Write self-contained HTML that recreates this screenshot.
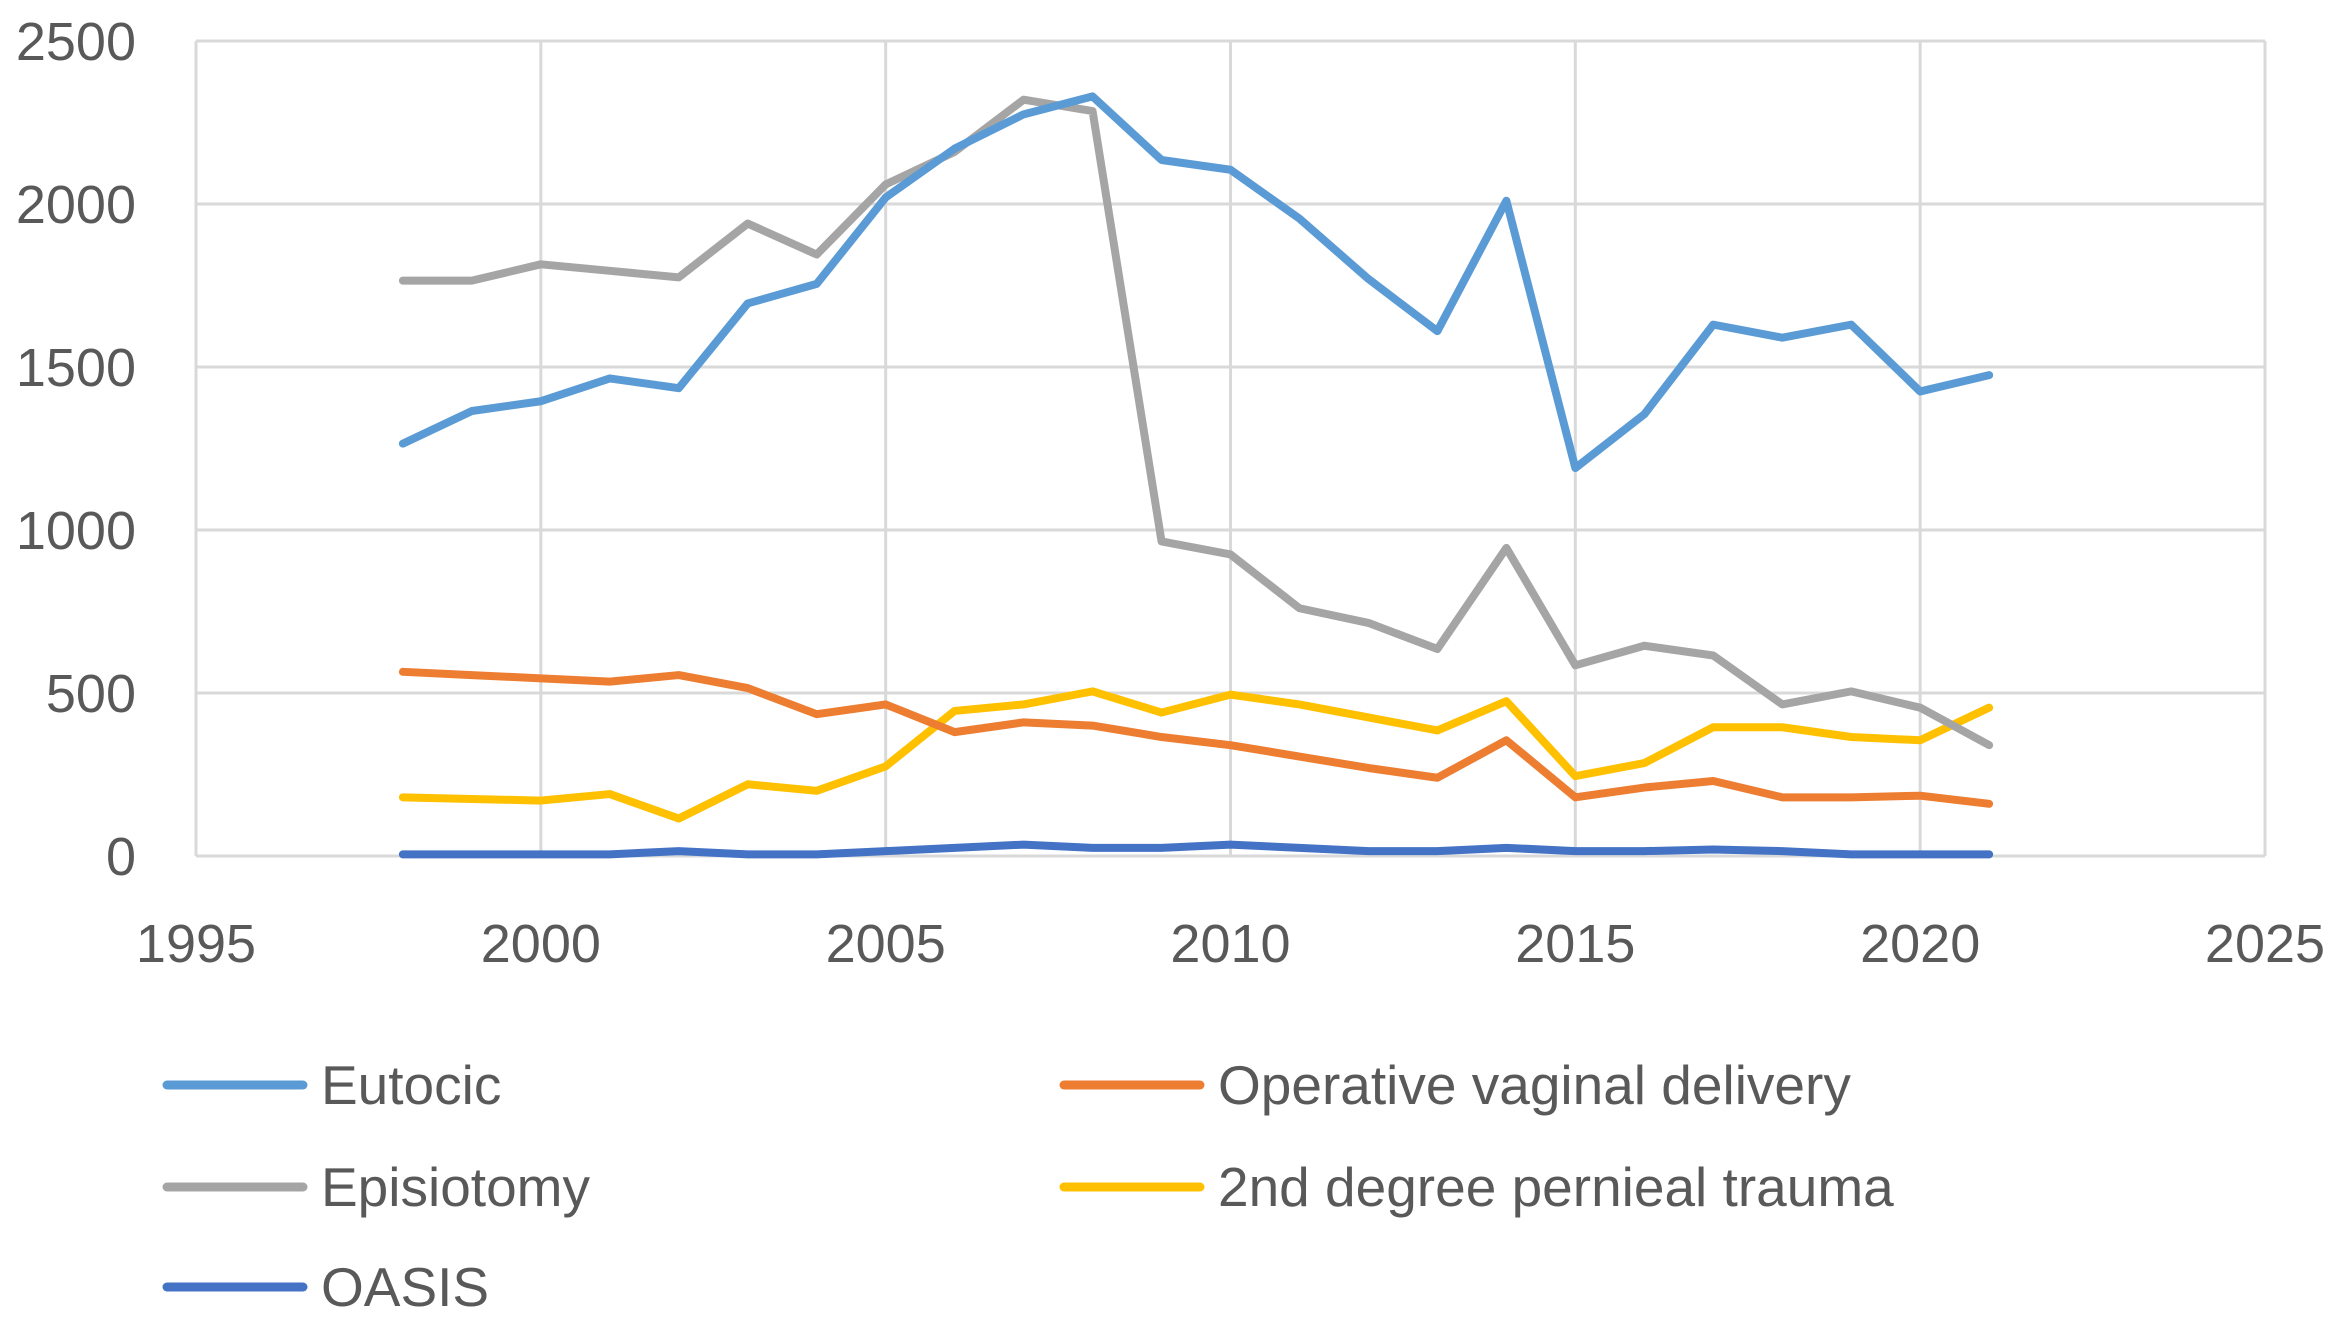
<!DOCTYPE html>
<html><head><meta charset="utf-8"><style>
html,body{margin:0;padding:0;background:#fff;}
svg{display:block;font-family:"Liberation Sans",sans-serif;}
</style></head><body>
<svg id="chart" width="2341" height="1321" viewBox="0 0 2341 1321">
<g id="grid"></g>
<g id="yticks"></g>
<g id="xticks"></g>
<g id="series"></g>
<g id="legend"></g>
</svg>
<script>
const years = [1998,1999,2000,2001,2002,2003,2004,2005,2006,2007,2008,2009,2010,2011,2012,2013,2014,2015,2016,2017,2018,2019,2020,2021];
const eutocic = [1265,1365,1395,1465,1435,1695,1755,2020,2170,2275,2330,2135,2105,1955,1770,1610,2010,1190,1355,1630,1590,1630,1425,1475];
const episiotomy = [1765,1765,1815,1795,1775,1940,1845,2060,2160,2320,2285,965,925,760,715,635,945,585,645,615,465,505,455,340];
const operative = [565,555,545,535,555,515,435,465,380,410,400,365,340,305,270,240,355,180,210,230,180,180,185,160];
const secondDegree = [180,175,170,190,115,220,200,275,445,465,505,440,495,465,425,385,475,245,285,395,395,365,355,455];
const oasis = [5,5,5,5,15,5,5,15,25,35,25,25,35,25,15,15,25,15,15,20,15,5,5,5];
const yTicks = [0,500,1000,1500,2000,2500];
const xTicks = [1995,2000,2005,2010,2015,2020,2025];

const NS='http://www.w3.org/2000/svg';
const L=196,R=2265,T=41,B=856;
const xs=v=>L+(v-1995)/30*(R-L);
const ys=v=>B-v/2500*(B-T);
function mk(tag,attrs,parent){const e=document.createElementNS(NS,tag);for(const k in attrs)e.setAttribute(k,attrs[k]);parent.appendChild(e);return e;}
const grid=document.getElementById('grid'),yt=document.getElementById('yticks'),xt=document.getElementById('xticks'),ser=document.getElementById('series'),leg=document.getElementById('legend');
yTicks.forEach(v=>{
  const l=mk('line',{x1:L,x2:R,y1:ys(v),y2:ys(v),stroke:'#d9d9d9','stroke-width':3},grid);
  
  
  const t=mk('text',{x:136,y:ys(v)+19,'text-anchor':'end','font-size':54,fill:'#595959'},yt);
  t.textContent=v;
  
  
});
xTicks.forEach(v=>{
  const l=mk('line',{x1:xs(v),x2:xs(v),y1:T,y2:B,stroke:'#d9d9d9','stroke-width':3},grid);
  
  
  const t=mk('text',{x:xs(v),y:962,'text-anchor':'middle','font-size':54,fill:'#595959'},xt);
  t.textContent=v;
  
  
});
const seriesList=[
  {name:'Eutocic',data:eutocic,color:'#5B9BD5',lx:167,ly:1085},
  {name:'Operative vaginal delivery',data:operative,color:'#ED7D31',lx:1064,ly:1085},
  {name:'Episiotomy',data:episiotomy,color:'#A5A5A5',lx:167,ly:1187},
  {name:'2nd degree pernieal trauma',data:secondDegree,color:'#FFC000',lx:1064,ly:1187},
  {name:'OASIS',data:oasis,color:'#4472C4',lx:167,ly:1287}
];
const order=[4,3,1,2,0];
order.forEach(i=>{
  const s=seriesList[i];
  const p=mk('polyline',{points:s.data.map((v,j)=>xs(years[j])+','+ys(v)).join(' '),fill:'none',stroke:s.color,'stroke-width':8,'stroke-linejoin':'round','stroke-linecap':'round'},ser);
  
  
});
seriesList.forEach(s=>{
  const g=mk('g',{},leg);
  
  
  mk('line',{x1:s.lx,x2:s.lx+136,y1:s.ly,y2:s.ly,stroke:s.color,'stroke-width':9,'stroke-linecap':'round'},g);
  const t=mk('text',{x:s.lx+154,y:s.ly+19,'font-size':55,fill:'#595959'},g);
  t.textContent=s.name;
});
</script>
</body></html>
